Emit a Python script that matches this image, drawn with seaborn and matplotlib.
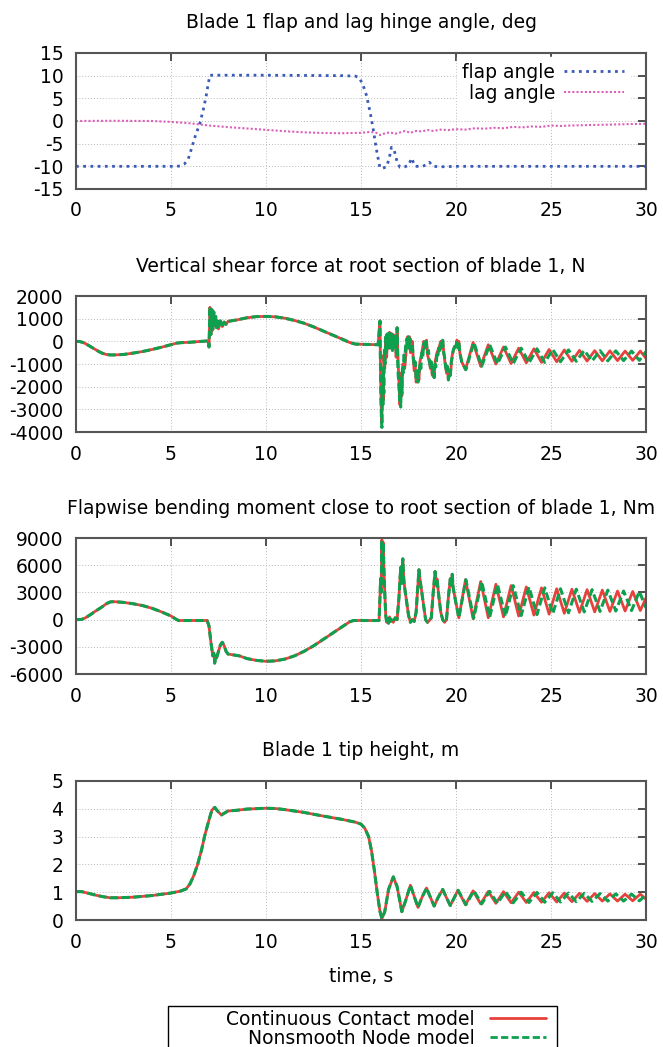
import numpy as np
import matplotlib
matplotlib.use("Agg")
import matplotlib.pyplot as plt
import seaborn as sns
from matplotlib.lines import Line2D
from matplotlib.patches import Rectangle

# ---------------- data ----------------
x_ticks = [0, 5, 10, 15, 20, 25, 30]

titles = ["Blade 1 flap and lag hinge angle, deg",
          "Vertical shear force at root section of blade 1, N",
          "Flapwise bending moment close to root section of blade 1, Nm",
          "Blade 1 tip height, m"]
series_labels = ["Continuous Contact model", "Nonsmooth Node model"]
angle_labels = ["flap angle", "lag angle"]
x_label = "time, s"

angle_yticks = [-15, -10, -5, 0, 5, 10, 15]
shear_yticks = [-4000, -3000, -2000, -1000, 0, 1000, 2000]
moment_yticks = [-6000, -3000, 0, 3000, 6000, 9000]
tip_yticks = [0, 1, 2, 3, 4, 5]

flap = [(0, -10), (5.3, -10), (5.5, -9.9), (5.7, -9.5), (5.9, -8.5), (6.1, -5.8),
        (6.3, -3.0), (6.5, -0.8), (6.7, 2.5), (6.85, 5.5), (6.95, 8.0), (7.05, 10.1),
        (8, 10.1), (10, 10.1), (12, 10.05), (14, 10.0), (14.7, 9.9), (14.9, 9.6),
        (15.1, 8.0), (15.3, 5.5), (15.5, 1.5), (15.65, -2.0), (15.8, -6.0), (16.0, -10.4),
        (16.15, -10.4), (16.35, -10.1), (16.5, -8.0), (16.6, -5.8), (16.75, -6.5),
        (16.9, -9.0), (17.05, -10.2), (17.3, -10.1), (17.5, -9.8), (17.66, -8.2),
        (17.85, -10.0), (18.25, -10.0), (18.45, -9.6), (18.6, -9.1), (18.8, -10.0),
        (19.2, -10.1), (20, -10), (25, -10), (30, -10)]

lag = [(0, 0), (2, 0.05), (4, 0.0), (5, -0.2), (6, -0.5), (7, -1.0), (8, -1.35),
       (9, -1.65), (10, -1.95), (11, -2.25), (12, -2.5), (13, -2.65), (14, -2.7),
       (15, -2.6), (15.5, -2.4), (15.8, -2.6), (16.0, -3.1), (16.2, -2.8), (16.5, -2.5),
       (16.8, -2.8), (17.0, -2.6), (17.3, -2.2), (17.6, -2.6), (17.9, -2.2), (18.2, -2.3),
       (18.5, -2.0), (18.8, -2.2), (19.2, -1.9), (19.6, -2.0), (20, -1.8), (20.5, -1.9),
       (21, -1.6), (21.5, -1.7), (22, -1.5), (22.5, -1.6), (23, -1.3), (23.5, -1.4),
       (24, -1.2), (24.5, -1.3), (25, -1.0), (25.5, -1.1), (26, -1.0), (27, -0.9),
       (28, -0.8), (29, -0.7), (30, -0.6)]

shear_early = [(0, 0), (0.2, -10), (0.4, -60), (0.6, -150), (0.8, -250), (1.0, -350),
               (1.2, -450), (1.4, -530), (1.6, -580), (1.8, -600), (2.0, -600), (2.5, -580),
               (3.0, -520), (3.5, -450), (4.0, -360), (4.5, -260), (5.0, -150), (5.3, -80),
               (5.5, -60), (6.0, -40), (6.5, -10), (6.95, 20), (7.0, -250), (7.05, 1500),
               (7.1, 300), (7.15, 1400), (7.2, 500), (7.25, 1300), (7.3, 700), (7.35, 1100),
               (7.4, 600), (7.45, 900), (7.5, 550), (7.6, 900), (7.7, 650), (7.8, 850),
               (7.9, 750), (8.0, 880), (8.5, 950), (9.0, 1040), (9.5, 1090), (10.0, 1100),
               (10.5, 1080), (11.0, 1020), (11.5, 920), (12.0, 800), (12.5, 640), (13.0, 460),
               (13.5, 280), (14.0, 100), (14.4, -50), (14.7, -120), (15.0, -130), (15.5, -140),
               (15.9, -150)]
shear_red_chaos = [(16.0, 900), (16.03, -1500), (16.07, -3000), (16.1, -3600),
                   (16.13, -1500), (16.17, -2600), (16.2, -600), (16.25, -1200), (16.3, 100),
                   (16.35, -700), (16.4, 300), (16.45, -300), (16.5, 400), (16.55, -100),
                   (16.6, 350), (16.65, -400), (16.7, 300), (16.75, -200), (16.8, 100),
                   (16.85, -700), (16.9, 600), (16.95, -800), (17.0, -1900), (17.05, -2800),
                   (17.1, -1400), (17.15, -2400), (17.2, -1000), (17.3, -1200), (17.4, -200),
                   (17.45, 200), (17.5, -300), (17.55, 200), (17.6, -500), (17.7, 0),
                   (17.75, -800), (17.8, -1300), (17.85, -1000), (17.9, -1800), (18.0, -1400),
                   (18.05, -1700), (18.1, -900), (18.2, -500), (18.3, 0), (18.4, -200),
                   (18.45, 50), (18.5, -600), (18.6, -900), (18.65, -1200), (18.7, -1000),
                   (18.75, -1500), (18.8, -1300), (18.85, -1600), (18.9, -900), (19.0, -500),
                   (19.1, -300), (19.2, 0), (19.25, -300), (19.3, 0), (19.4, -800),
                   (19.5, -1400), (19.55, -1200), (19.6, -1700), (19.65, -1300), (19.7, -1500),
                   (19.8, -600), (19.9, -300), (20.0, -200), (20.05, 50), (20.1, -300),
                   (20.15, 0), (20.2, -500), (20.3, -900)]
shear_green_chaos = [(16.0, 900), (16.02, -800), (16.05, -2600), (16.08, -3500), (16.1, -3800),
                     (16.12, -2000), (16.15, -2900), (16.18, -1200), (16.2, -2300),
                     (16.23, -400), (16.26, -1000), (16.3, 200), (16.33, -500), (16.36, 300),
                     (16.4, -300), (16.43, 400), (16.46, -200), (16.5, 350), (16.53, -300),
                     (16.56, 400), (16.6, -200), (16.63, 300), (16.66, -400), (16.7, 200),
                     (16.73, -100), (16.76, 300), (16.8, -300), (16.83, 100), (16.86, -500),
                     (16.9, 600), (16.93, -900), (16.96, -1500), (17.0, -2000), (17.03, -2600),
                     (17.06, -2200), (17.09, -2900), (17.12, -1600), (17.15, -2300),
                     (17.18, -1200), (17.22, -1400), (17.26, -600), (17.3, -900),
                     (17.35, -200), (17.4, 100), (17.45, -200), (17.5, 200), (17.55, -300),
                     (17.6, 100), (17.65, -400), (17.7, -100), (17.75, -700), (17.8, -1100),
                     (17.85, -900), (17.9, -1600), (17.95, -1300), (18.0, -1800),
                     (18.05, -1400), (18.1, -1000), (18.15, -1200), (18.2, -500),
                     (18.25, -700), (18.3, -100), (18.35, -300), (18.4, 0), (18.45, -200),
                     (18.5, -500), (18.55, -400), (18.6, -900), (18.65, -1100), (18.7, -900),
                     (18.75, -1400), (18.8, -1200), (18.85, -1600), (18.9, -1000),
                     (18.95, -1100), (19.0, -500), (19.05, -600), (19.1, -200), (19.15, -400),
                     (19.2, 0), (19.25, -250), (19.3, 50), (19.35, -500), (19.4, -700),
                     (19.45, -1100), (19.5, -1300), (19.55, -1100), (19.6, -1700),
                     (19.65, -1400), (19.7, -1500), (19.75, -900), (19.8, -700),
                     (19.85, -400), (19.9, -300), (19.95, -100), (20.0, -250), (20.05, 50),
                     (20.1, -250), (20.15, 0), (20.2, -500), (20.3, -900)]
shear_red_tail = [(20.5, -1250), (20.9, -50), (21.3, -1100), (21.7, -150), (22.1, -1000),
                  (22.5, -250), (22.9, -980), (23.3, -300), (23.7, -950), (24.1, -330),
                  (24.5, -930), (24.9, -360), (25.3, -900), (25.7, -380), (26.1, -880),
                  (26.5, -400), (26.9, -870), (27.3, -410), (27.7, -860), (28.1, -420),
                  (28.5, -850), (28.9, -430), (29.3, -840), (29.7, -430), (30.0, -750)]
shear_green_tail = [(20.52, -1250), (20.94, -50), (21.35, -1100), (21.77, -150),
                    (22.18, -1000), (22.6, -250), (23.01, -980), (23.43, -300),
                    (23.84, -950), (24.26, -330), (24.67, -930), (25.09, -360),
                    (25.5, -900), (25.92, -380), (26.33, -880), (26.75, -400),
                    (27.16, -870), (27.58, -410), (27.99, -860), (28.41, -420),
                    (28.82, -850), (29.24, -430), (29.65, -840), (30.0, -450)]

moment_common = [(0, 0), (0.3, 20), (0.5, 200), (0.8, 600), (1.0, 900), (1.3, 1300),
                 (1.6, 1750), (1.8, 1950), (2.0, 1980), (2.5, 1900), (3.0, 1750),
                 (3.5, 1550), (4.0, 1250), (4.5, 850), (5.0, 400), (5.3, 0), (5.4, -100),
                 (6.9, -100), (7.0, -700), (7.1, -2500), (7.2, -4000), (7.25, -3700),
                 (7.3, -4800), (7.35, -4000), (7.4, -4200), (7.5, -3500), (7.6, -2800),
                 (7.7, -2500), (7.8, -2900), (7.9, -3500), (8.0, -3800), (8.3, -3900),
                 (8.6, -4000), (9.0, -4300), (9.5, -4500), (10.0, -4600), (10.5, -4550),
                 (11.0, -4350), (11.5, -4000), (12.0, -3500), (12.5, -2900), (13.0, -2200),
                 (13.5, -1500), (14.0, -800), (14.4, -250), (14.6, -100), (15.95, -100),
                 (16.0, 2500), (16.03, 4500), (16.06, 3000), (16.1, 8800), (16.13, 5500),
                 (16.17, 8500), (16.2, 6000), (16.25, 3000), (16.3, 500), (16.35, -300),
                 (16.4, 100), (16.45, -400), (16.5, 300), (16.55, -200), (16.6, 0),
                 (16.7, -300), (16.8, 200), (16.9, 0), (17.0, 2500), (17.05, 4500),
                 (17.1, 5800), (17.15, 4000), (17.2, 6700), (17.25, 4500), (17.3, 3500),
                 (17.4, 2000), (17.5, 500), (17.6, -300), (17.7, 0), (17.8, -200),
                 (17.9, 800), (18.0, 4000), (18.05, 5500), (18.1, 4500), (18.2, 3000),
                 (18.3, 1500), (18.4, 0), (18.5, -300), (18.6, -100), (18.7, 200),
                 (18.8, 3000), (18.9, 5300), (18.95, 3800), (19.0, 4500), (19.1, 2500),
                 (19.2, 800), (19.3, 0), (19.4, -300), (19.5, 0), (19.6, 2500),
                 (19.7, 4500), (19.75, 3800), (19.8, 5000), (19.85, 3500), (20.0, 1800),
                 (20.15, 200)]
moment_red_tail = [(20.5, 4400), (20.9, 100), (21.3, 4200), (21.7, 200), (22.1, 3900),
                   (22.5, 300), (22.9, 3750), (23.3, 400), (23.7, 3600), (24.1, 500),
                   (24.5, 3500), (24.9, 600), (25.3, 3400), (25.7, 700), (26.1, 3350),
                   (26.5, 800), (26.9, 3300), (27.3, 850), (27.7, 3250), (28.1, 900),
                   (28.5, 3150), (28.9, 950), (29.3, 3100), (29.7, 1000), (30.0, 2400)]
moment_green_tail = [(20.52, 4400), (20.93, 150), (21.35, 4200), (21.77, 250),
                     (22.18, 3900), (22.6, 350), (23.01, 3750), (23.43, 450),
                     (23.84, 3600), (24.26, 550), (24.67, 3500), (25.09, 650),
                     (25.5, 3400), (25.92, 750), (26.33, 3350), (26.75, 850),
                     (27.16, 3300), (27.58, 900), (27.99, 3250), (28.41, 950),
                     (28.82, 3150), (29.24, 1000), (29.65, 3100), (30.0, 1300)]

tip_common = [(0, 1.02), (0.3, 1.02), (0.6, 0.97), (1.0, 0.9), (1.4, 0.84), (1.8, 0.8),
              (2.2, 0.8), (3.0, 0.82), (4.0, 0.88), (5.0, 0.97), (5.5, 1.04), (5.8, 1.12),
              (6.0, 1.3), (6.2, 1.6), (6.4, 2.0), (6.6, 2.5), (6.8, 3.1), (7.0, 3.6),
              (7.15, 3.95), (7.3, 4.05), (7.45, 3.92), (7.65, 3.78), (7.85, 3.86),
              (8.0, 3.92), (8.5, 3.95), (9.0, 3.99), (10.0, 4.02), (10.5, 4.01),
              (11.0, 3.97), (12.0, 3.87), (13.0, 3.74), (14.0, 3.62), (14.7, 3.52),
              (15.0, 3.45), (15.2, 3.3), (15.4, 3.0), (15.55, 2.5), (15.7, 1.8),
              (15.85, 1.0), (16.0, 0.3), (16.1, 0.05), (16.25, 0.3), (16.45, 1.1),
              (16.7, 1.55), (16.9, 1.2), (17.15, 0.3), (17.35, 0.7), (17.6, 1.25),
              (17.8, 0.85), (18.0, 0.45), (18.2, 0.8), (18.45, 1.15), (18.65, 0.82),
              (18.85, 0.5), (19.05, 0.8), (19.3, 1.1), (19.5, 0.8), (19.7, 0.52)]
tip_red_tail = [(20.1, 1.07), (20.5, 0.55), (20.9, 1.05), (21.3, 0.58), (21.7, 1.03),
                (22.1, 0.6), (22.5, 1.02), (22.9, 0.62), (23.3, 1.0), (23.7, 0.63),
                (24.1, 0.99), (24.5, 0.64), (24.9, 0.98), (25.3, 0.65), (25.7, 0.97),
                (26.1, 0.66), (26.5, 0.96), (26.9, 0.67), (27.3, 0.95), (27.7, 0.68),
                (28.1, 0.94), (28.5, 0.68), (28.9, 0.93), (29.3, 0.69), (29.7, 0.93),
                (30.0, 0.75)]
tip_green_tail = [(20.11, 1.07), (20.52, 0.55), (20.94, 1.05), (21.35, 0.58),
                  (21.77, 1.03), (22.18, 0.6), (22.6, 1.02), (23.01, 0.62), (23.43, 1.0),
                  (23.84, 0.63), (24.26, 0.99), (24.67, 0.64), (25.09, 0.98), (25.5, 0.65),
                  (25.92, 0.97), (26.33, 0.66), (26.75, 0.96), (27.16, 0.67), (27.58, 0.95),
                  (27.99, 0.68), (28.41, 0.94), (28.82, 0.68), (29.24, 0.93), (29.65, 0.69),
                  (30.0, 0.9)]

# ---------------- styling ----------------
W, H = 663, 1047
sns.set_theme(style="white")
plt.rcParams['font.family'] = ['DejaVu Sans']
plt.rcParams['axes.unicode_minus'] = False
plt.rcParams['text.color'] = 'black'
plt.rcParams['axes.titlecolor'] = 'black'
FS = 13.5
RED = '#e8413c'
GREEN = '#0ca04f'
BLUE = '#3a5ab8'
PINK = '#dd5fb8'
GREEN_DASH = (0, (2.6, 1.2))

fig = plt.figure(figsize=(W / 100, H / 100), dpi=100)
LEFT, RIGHT = 76, 646


def add_axes_px(top, height):
    return fig.add_axes([LEFT / W, 1 - (top + height) / H, (RIGHT - LEFT) / W, height / H])


def xy(pairs):
    a = np.array(pairs, dtype=float)
    return a[:, 0], a[:, 1]


def line(ax, pairs, **kw):
    x, y = xy(pairs)
    sns.lineplot(x=x, y=y, ax=ax, estimator=None, sort=False, legend=False, **kw)


def style(ax, title, yticks, h):
    ax.set_xlim(0, 30)
    ax.set_ylim(yticks[0], yticks[-1])
    ax.set_xticks(x_ticks)
    ax.set_yticks(yticks)
    ax.grid(True, color='#b8b8b8', linestyle=(0, (1, 2)), linewidth=0.7)
    ax.set_axisbelow(True)
    for s in ax.spines.values():
        s.set_color('#555555')
        s.set_linewidth(1.5)
    ax.tick_params(direction='in', length=6, width=1.2, color='#333333',
                   top=True, right=True, labelsize=FS, pad=9, labelcolor='black')
    ax.set_xlabel('')
    ax.set_ylabel('')
    ax.set_title(title, fontsize=FS, y=1 + 30 / h, pad=0, va='center', color='black')


# panel 1
h1 = 136
ax1 = add_axes_px(53, h1)
line(ax1, flap, color=BLUE, linewidth=2.0, linestyle=(0, (1, 1.6)))
line(ax1, lag, color=PINK, linewidth=1.5, linestyle=(0, (1, 1)))
style(ax1, titles[0], angle_yticks, h1)
h_ang = [Line2D([], [], color=BLUE, lw=2.0, ls=(0, (1, 1.6))),
         Line2D([], [], color=PINK, lw=1.5, ls=(0, (1, 1)))]
leg1 = ax1.legend(h_ang, angle_labels, loc='upper right',
                  bbox_to_anchor=((630 - LEFT) / (RIGHT - LEFT), 1 - (57 - 53) / h1),
                  markerfirst=False, fontsize=FS, handlelength=3.2, handletextpad=0.5,
                  labelspacing=0.12, borderpad=0.3, borderaxespad=0, frameon=True,
                  fancybox=False, framealpha=1, facecolor='white', edgecolor='white')

# panel 2
h2 = 136
ax2 = add_axes_px(296, h2)
line(ax2, shear_early + shear_red_chaos + shear_red_tail, color=RED, linewidth=2.0)
line(ax2, shear_early + shear_green_chaos + shear_green_tail, color=GREEN, linewidth=2.2,
     linestyle=GREEN_DASH)
style(ax2, titles[1], shear_yticks, h2)

# panel 3
h3 = 136
ax3 = add_axes_px(538, h3)
line(ax3, moment_common + moment_red_tail, color=RED, linewidth=2.0)
line(ax3, moment_common + moment_green_tail, color=GREEN, linewidth=2.2, linestyle=GREEN_DASH)
style(ax3, titles[2], moment_yticks, h3)

# panel 4
h4 = 139
ax4 = add_axes_px(781, h4)
line(ax4, tip_common + tip_red_tail, color=RED, linewidth=2.0)
line(ax4, tip_common + tip_green_tail, color=GREEN, linewidth=2.2, linestyle=GREEN_DASH)
style(ax4, titles[3], tip_yticks, h4)
fig.text((LEFT + RIGHT) / 2 / W, 1 - 977 / H, x_label, fontsize=FS, ha='center', va='center',
         color='black')

# bottom legend with a box running off the bottom edge
fig.add_artist(Rectangle((168 / W, -0.05), (557 - 168) / W, (1 - 1006 / H) + 0.05,
                         transform=fig.transFigure, fill=False, edgecolor='black', lw=1.0))
h_mod = [Line2D([], [], color=RED, lw=2.0),
         Line2D([], [], color=GREEN, lw=2.0, ls=GREEN_DASH)]
fig.legend(h_mod, series_labels, loc='upper right', bbox_to_anchor=(546 / W, 1 - 1010 / H),
           markerfirst=False, fontsize=FS, handlelength=3.0, handletextpad=0.8,
           labelspacing=0.0, borderpad=0, borderaxespad=0, frameon=False)

fig.savefig('out.png', dpi=100)
